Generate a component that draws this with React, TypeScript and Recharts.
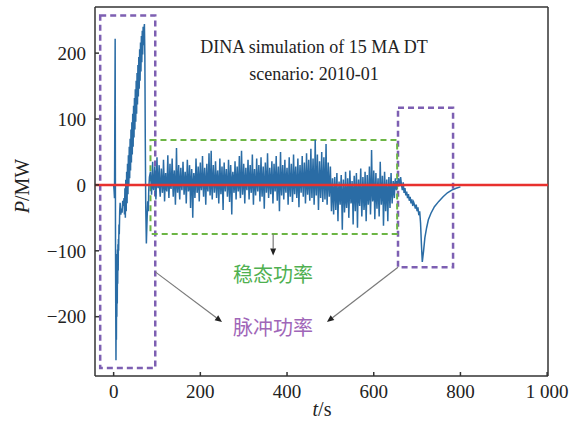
import { LineChart, Line, XAxis, YAxis, ReferenceLine, ReferenceArea } from "recharts";

// pulse at start-up (t in s, P in MW)
const pulseT = [
  0, 1, 2, 3.5, 4.3, 4.8, 5.4, 5.9, 6.4, 6.9, 7.4, 7.9, 8.4, 8.9, 9.4, 9.9, 10.5, 11, 11.6, 12.3,
  13, 14, 15, 16.5, 18, 19.5, 21, 22.5, 24, 25, 26, 27, 28, 29, 30, 31, 32, 33, 34, 35,
  36, 37, 38, 39, 40, 41, 42, 43, 44, 45, 46, 47, 48, 49, 50, 51, 52, 53, 54, 55,
  56, 57, 58, 59, 60, 61, 62, 63, 64, 65, 66, 67, 68, 69, 70, 71, 72, 73, 74, 75.5,
  77, 78.5, 80, 81, 82.5,
];
const pulseP = [
  0, -8, -20, 222, -85, -180, -266, -170, -235, -120, -200, -105, -180, -98, -150, -90, -130, -82, -100, -60,
  -75, -40, -27, -45, -36, -42, -24, -32, -20, -45, -5, -50, 8, -40, 20, -28, 32, -14, 45, -2,
  58, 10, 70, 22, 84, 34, 95, 46, 108, 58, 120, 72, 132, 84, 145, 96, 158, 108, 170, 122,
  182, 134, 194, 146, 206, 158, 216, 172, 226, 186, 234, 198, 240, 212, 236, 244, 196, 70, -30, -89,
  -55, -25, -40, -8, 12,
];

// flat-top phase, sampled every 1.25 s from t = 85 s
const STEADY_T0 = 85;
const STEADY_DT = 1.25;
const steadyP = [
  20, 3, -15, 8, 35, -4, -8, 10, 28, -2, -22, 6, 42, 1, -5, 12, 30, -6, -18, 4,
  25, 7, -12, -3, 38, 11, -25, 2, 18, -5, -10, 9, 45, 0, -20, 5, 32, -2, -6, 13,
  40, 4, -18, 10, 22, -1, -30, 6, 56, 2, -12, 12, 30, -4, -22, 8, 26, 1, -8, 5,
  35, 9, -15, -2, 20, 6, -28, 3, 38, 11, -10, -5, 30, 7, -35, 0, 24, 4, -50, -3,
  18, 8, -20, 2, 40, 12, -12, -4, 28, 5, -25, 10, 34, -1, -8, 7, 44, 3, -18, 9,
  26, 1, -30, 6, 32, -3, -10, 11, 48, 4, -16, 8, 52, -2, -22, 10, 30, 5, -12, 0,
  36, 12, -20, 3, 22, 7, -28, -1, 40, 9, -14, 5, 28, -4, -38, 8, 34, 2, -10, 10,
  24, 6, -18, -2, 38, 10, -26, 4, 30, 1, -45, 7, 20, 11, -12, -3, 36, 5, -22, 8,
  28, 2, -10, 9, 44, -4, -20, 6, 52, 12, -15, 0, 32, 8, -28, 3, 26, -1, -8, 10,
  38, 5, -22, 11, 30, -2, -12, 7, 46, 3, -30, 9, 24, -3, -16, 6, 40, 1, -10, 12,
  30, 4, -25, 8, 42, 0, -18, 10, 28, -3, -36, 6, 34, 12, -12, 2, 48, 7, -20, -1,
  26, 9, -14, 3, 36, 6, -28, -2, 32, 11, -10, 5, 44, 1, -24, 8, 28, -4, -40, 7,
  50, 2, -16, 10, 30, 4, -22, 7, 38, -1, -12, 12, 26, 3, -30, 6, 42, 0, -18, 9,
  32, 5, -26, -2, 46, 8, -14, 11, 28, 1, -20, 6, 40, -3, -34, 9, 30, 4, -12, 10,
  44, 3, -18, 7, 34, 12, -28, 0, 48, 6, -15, 10, 38, -2, -24, 8, 55, 5, -20, 11,
  40, 6, -30, 2, 68, 9, -16, 12, 46, 4, -38, -1, 36, 10, -20, 7, 50, 3, -26, 8,
  42, 5, -22, 9, 62, 1, -30, 6, 34, 0, -18, 4, 28, -8, -40, -12, 10, -18, -45, -10,
  12, -14, -38, -8, 18, -20, -55, -12, 5, -18, -30, -6, 15, -22, -68, -15, 8, -10, -42, -25,
  20, -12, -35, -20, 10, -8, -50, -16, 22, -4, -28, -24, 6, -14, -60, -10, 14, -18, -40, -6,
  18, -16, -65, -10, 8, -22, -32, -5, 25, -14, -48, -20, 12, -8, -38, -25, 20, -12, -55, -18,
  15, -10, -30, -18, 28, -6, -45, -14, 53, 2, -25, -20, 22, -8, -52, -12, 18, -16, -36, -4,
  10, -20, -48, -12, 35, -4, -30, -16, 14, -10, -62, -22, 20, -6, -40, -14, 8, -18, -55, -8,
  12, -14, -35, -6, 18, -10, -28, -4, 6, -12, -20, 2, 10, -5, -8, 6, 4,
];

// ramp-down pulse
const tailT = [
  657.5, 660, 662, 664, 666, 668, 670, 672, 674, 676, 678, 680, 682, 684, 686, 688, 690, 692, 694, 696,
  698, 700, 702, 704, 706, 708, 710, 712, 715, 718, 722, 726, 732, 740, 750, 760, 770, 780, 790, 800,
];
const tailP = [
  10, -2, 12, 0, -8, 4, -12, -5, -16, -10, -20, -14, -24, -18, -28, -22, -32, -26, -30, -36,
  -30, -40, -34, -46, -40, -58, -90, -117, -100, -80, -65, -53, -43, -33, -25, -18, -12, -8, -5, -3,
];

const xTicks = [0, 200, 400, 600, 800, 1000];
const yTicks = [-200, -100, 0, 100, 200];

const data = [
  ...pulseT.map((t, i) => ({ t, p: pulseP[i] })),
  ...steadyP.map((p, i) => ({ t: STEADY_T0 + i * STEADY_DT, p })),
  ...tailT.map((t, i) => ({ t, p: tailP[i] })),
];

const SERIF = "'Liberation Serif', 'DejaVu Serif', serif";
const CJK = "'Noto Sans CJK SC', sans-serif";
const PURPLE = "#7d5fb2";
const GREEN = "#6cb545";

const fmtX = (v: number) => (v === 1000 ? "1 000" : String(v));
const fmtY = (v: number) => (v < 0 ? "\u2212" + Math.abs(v) : String(v));

const Arrow = (props: any) => {
  const { x1, y1, x2, y2 } = props;
  const a = Math.atan2(y2 - y1, x2 - x1);
  const L = 7;
  const W = 3;
  const bx = x2 - L * Math.cos(a);
  const by = y2 - L * Math.sin(a);
  const pts = `${x2},${y2} ${bx - W * Math.sin(a)},${by + W * Math.cos(a)} ${bx + W * Math.sin(a)},${by - W * Math.cos(a)}`;
  return (
    <g>
      <line x1={x1} y1={y1} x2={bx} y2={by} stroke="#7a7a7a" strokeWidth={1.2} />
      <polygon points={pts} fill="#222" />
    </g>
  );
};

const tickStyle = { fontFamily: SERIF, fontSize: 19, fill: "#222" };

export default function App() {
  return (
    <div style={{ position: "absolute", left: 0, top: 0, width: 578, height: 428, background: "#fff" }}>
      <LineChart width={578} height={428} data={data} margin={{ top: 7, right: 30, left: 0, bottom: 0 }}>
        <XAxis
          dataKey="t"
          type="number"
          domain={[-43, 1002]}
          allowDataOverflow
          ticks={xTicks}
          tickFormatter={fmtX}
          tickSize={-4}
          tickMargin={13}
          height={52}
          stroke="#333"
          strokeWidth={1.5}
          tick={tickStyle}
        />
        <YAxis
          type="number"
          domain={[-290, 270]}
          allowDataOverflow
          ticks={yTicks}
          tickFormatter={fmtY}
          tickSize={-4}
          tickMargin={13}
          width={95}
          stroke="#333"
          strokeWidth={1.5}
          tick={tickStyle}
        />
        <ReferenceLine y={270} stroke="#333" strokeWidth={1.5} />
        <ReferenceLine x={1002} stroke="#333" strokeWidth={1.5} />
        <Line
          dataKey="p"
          type="linear"
          stroke="#2a6ca5"
          strokeWidth={1.5}
          dot={false}
          isAnimationActive={false}
        />
        <ReferenceLine y={0} stroke="#e8312e" strokeWidth={2.5} />
        <ReferenceArea x1={-31} x2={96} y1={-278} y2={257} fill="none" stroke={PURPLE} strokeWidth={2.5} strokeDasharray="6 4" />
        <ReferenceArea x1={656} x2={783} y1={-125} y2={117} fill="none" stroke={PURPLE} strokeWidth={2.5} strokeDasharray="6 4" />
        <ReferenceArea x1={85} x2={654} y1={-74.5} y2={68} fill="none" stroke={GREEN} strokeWidth={2} strokeDasharray="6 4" />
        <ReferenceLine segment={[{ x: 96, y: -132 }, { x: 250, y: -208 }]} shape={Arrow} />
        <ReferenceLine segment={[{ x: 656, y: -125 }, { x: 492, y: -208 }]} shape={Arrow} />
        <ReferenceLine segment={[{ x: 368, y: -75 }, { x: 368, y: -107 }]} shape={Arrow} />
        <text x={314} y={53} textAnchor="middle" fontFamily={SERIF} fontSize={18} fill="#222">
          DINA simulation of 15 MA DT
        </text>
        <text x={314} y={80} textAnchor="middle" fontFamily={SERIF} fontSize={18} fill="#222">
          scenario: 2010-01
        </text>
        <text x={273} y={282} textAnchor="middle" fontFamily={CJK} fontSize={20} fill="#4fb050">
          稳态功率
        </text>
        <text x={273} y={335} textAnchor="middle" fontFamily={CJK} fontSize={20} fill="#a066b8">
          脉冲功率
        </text>
        <text
          x={22}
          y={186}
          transform="rotate(-90 22 186)"
          textAnchor="middle"
          dominantBaseline="central"
          fontFamily={SERIF}
          fontSize={20}
          fill="#222"
        >
          <tspan fontStyle="italic">P</tspan>/MW
        </text>
        <text x={322} y={416} textAnchor="middle" fontFamily={SERIF} fontSize={20} fill="#222">
          <tspan fontStyle="italic">t</tspan>/s
        </text>
      </LineChart>
    </div>
  );
}
